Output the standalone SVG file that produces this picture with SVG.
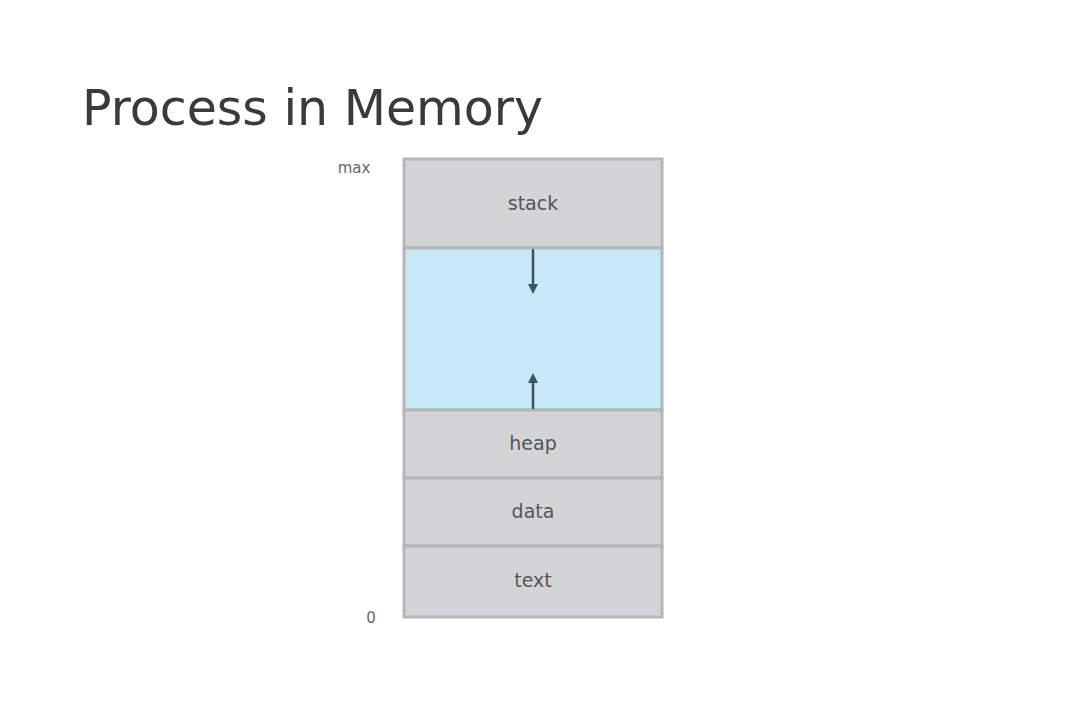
<svg xmlns="http://www.w3.org/2000/svg" width="1080" height="720" viewBox="0 0 1080 720">
<defs>
<marker id="dot" viewBox="0 0 10 10" refX="5" refY="5" markerWidth="4" markerHeight="4" orient="auto" markerUnits="strokeWidth">
<path d="M0,0 L10,5 L0,10 z" fill="#3d5560"/>
</marker>
<style>
.seg{fill:#d3d4d6;stroke:#b4b6b8;stroke-width:3}
.free{fill:#c6e8f7;stroke:#b4b6b8;stroke-width:3}
.lbl{font-family:"DejaVu Sans",sans-serif;font-size:19px;fill:#555;text-anchor:middle}
.side{font-family:"DejaVu Sans",sans-serif;font-size:15px;fill:#666;text-anchor:middle}
.conn{stroke:#3d5560;stroke-width:2.5;fill:none}
</style>
</defs>
<rect width="1080" height="720" fill="#ffffff"/>
<text x="82" y="125" font-family="DejaVu Sans, sans-serif" font-size="49" fill="#3a3a3a">Process in Memory</text>
<g id="stack"><rect class="seg" x="404" y="159" width="258" height="89"/><text class="lbl" x="533" y="210">stack</text></g>
<g id="free"><rect class="free" x="404" y="248" width="258" height="162"/></g>
<g id="heap"><rect class="seg" x="404" y="410" width="258" height="68"/><text class="lbl" x="533" y="450">heap</text></g>
<g id="data"><rect class="seg" x="404" y="478" width="258" height="68"/><text class="lbl" x="533" y="518">data</text></g>
<g id="text"><rect class="seg" x="404" y="546" width="258" height="71"/><text class="lbl" x="533" y="587">text</text></g>
<g id="max"><text class="side" x="354" y="173">max</text></g>
<g id="zero"><text class="side" x="371" y="623">0</text></g>
<g id="connectors">
<line class="conn" x1="533" y1="249" x2="533" y2="289" marker-end="url(#dot)"/>
<line class="conn" x1="533" y1="409" x2="533" y2="378" marker-end="url(#dot)"/>
</g>
</svg>
